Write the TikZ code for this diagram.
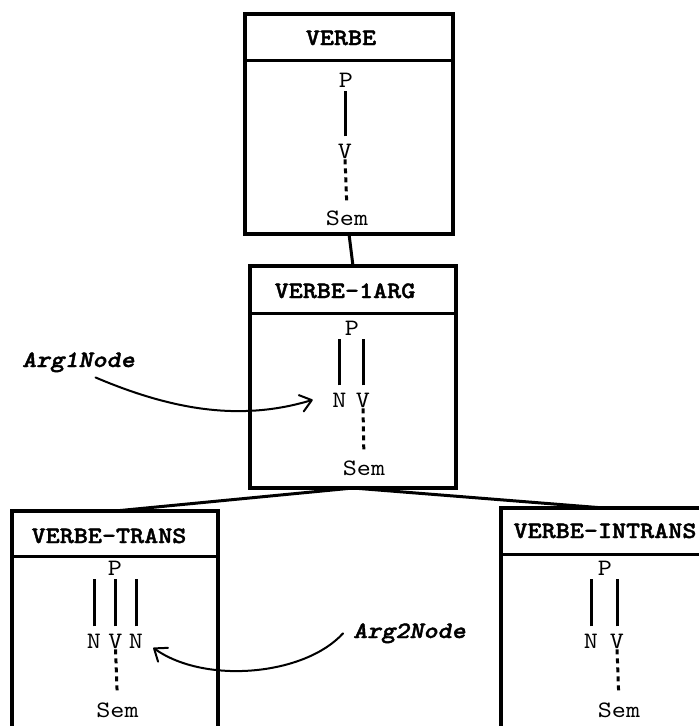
\documentclass[tikz,border=0pt]{standalone}
\usepackage{fontspec}
\setmonofont{lmmono10-regular.otf}[
  BoldFont=lmmonolt10-bold.otf,
  BoldItalicFont=lmmonolt10-boldoblique.otf,
  ItalicFont=lmmono10-italic.otf,
  BoldFeatures={FakeBold=1.6},
  BoldItalicFeatures={FakeBold=1.6},
  FakeStretch=1.14]
\usetikzlibrary{arrows.meta}
\begin{document}
\begin{tikzpicture}[x=1pt,y=-1pt,
 box/.style={draw, line width=3.5pt, minimum width=206pt, minimum height=220pt, outer sep=0pt, inner sep=0pt},
 hdr/.style={line width=3pt},
 ttl/.style={font=\fontsize{23.5pt}{28pt}\selectfont\ttfamily\bfseries, inner sep=0pt, anchor=base},
 lbl/.style={font=\fontsize{23.5pt}{28pt}\selectfont\ttfamily, inner sep=0pt, anchor=base},
 argl/.style={font=\fontsize{23.5pt}{28pt}\selectfont\ttfamily\bfseries\itshape, inner sep=0pt, anchor=base},
 link/.style={line width=3pt},
 solidl/.style={line width=3pt, shorten <=7pt, shorten >=4pt},
 dotl/.style={line width=3pt, dash pattern=on 5pt off 4pt, shorten <=1pt, shorten >=8pt},
 arr/.style={line width=2pt, -{Straight Barb[length=11pt,width=17pt,round]}, line cap=round}
]
\useasboundingbox (0,0) rectangle (699,726);

% boxes
\node[box, minimum width=208pt] (verbe) at (349,124) {};
\node[box, minimum height=222pt] (arg1) at (353,377) {};
\node[box] (trans) at (115,621) {};
\node[box] (intrans) at (604,618) {};

\draw[hdr] ([yshift=-46pt]verbe.north west) -- ([yshift=-46pt]verbe.north east);
\draw[hdr] ([yshift=-47pt]arg1.north west) -- ([yshift=-47pt]arg1.north east);
\draw[hdr] ([yshift=-45pt]trans.north west) -- ([yshift=-45pt]trans.north east);
\draw[hdr] ([yshift=-46pt]intrans.north west) -- ([yshift=-46pt]intrans.north east);

% titles
\node[ttl] (tverbe) at (341,45) {VERBE};
\node[ttl] (targ1) at (345,298) {VERBE-1ARG};
\node[ttl] (ttrans) at (109,543) {VERBE-TRANS};
\node[ttl] (tintrans) at (605,538) {VERBE-INTRANS};

% box links
\draw[link] (verbe.south) -- (arg1.north);
\draw[link] (arg1.south) -- (trans.north);
\draw[link] (arg1.south) -- (intrans.north);

% VERBE tree
\node[lbl] (p1) at (346,87) {P};
\node[lbl] (v1) at (345,158) {V};
\node[lbl] (s1) at (347,225) {Sem};
\draw[solidl] (v1.north) -- (v1.north |- p1.south);
\draw[dotl] (v1.south) -- (s1.north);

% VERBE-1ARG tree
\node[lbl] (p2) at (352,335) {P};
\node[lbl] (n2) at (339.5,407) {N};
\node[lbl] (v2) at (363,407) {V};
\node[lbl] (s2) at (364,475) {Sem};
\draw[solidl] (n2.north) -- (n2.north |- p2.south);
\draw[solidl] (v2.north) -- (v2.north |- p2.south);
\draw[dotl] (v2.south) -- (s2.north);

% VERBE-TRANS tree
\node[lbl] (p3) at (115,575) {P};
\node[lbl] (n3a) at (94,648) {N};
\node[lbl] (v3) at (115.5,648) {V};
\node[lbl] (n3b) at (136,648) {N};
\node[lbl] (s3) at (117.5,717) {Sem};
\draw[solidl] (n3a.north) -- (n3a.north |- p3.south);
\draw[solidl] (v3.north) -- (v3.north |- p3.south);
\draw[solidl] (n3b.north) -- (n3b.north |- p3.south);
\draw[dotl] (v3.south) -- (s3.north);

% VERBE-INTRANS tree
\node[lbl] (p4) at (605,575) {P};
\node[lbl] (n4) at (591,648) {N};
\node[lbl] (v4) at (617,648) {V};
\node[lbl] (s4) at (619,717) {Sem};
\draw[solidl] (n4.north) -- (n4.north |- p4.south);
\draw[solidl] (v4.north) -- (v4.north |- p4.south);
\draw[dotl] (v4.south) -- (s4.north);

% argument labels
\node[argl] (a1) at (78.5,367) {Arg1Node};
\node[argl] (a2) at (409.5,638) {Arg2Node};
\draw[arr] ([shift={(17pt,-5pt)}]a1.south) .. controls +(80,34) and +(-70,21) .. ([xshift=-19.5pt]n2.west);
\draw[arr] ([xshift=-10pt]a2.west) .. controls +(-38,42) and +(52,37) .. ([shift={(10pt,-7pt)}]n3b.east);
\end{tikzpicture}
\end{document}
